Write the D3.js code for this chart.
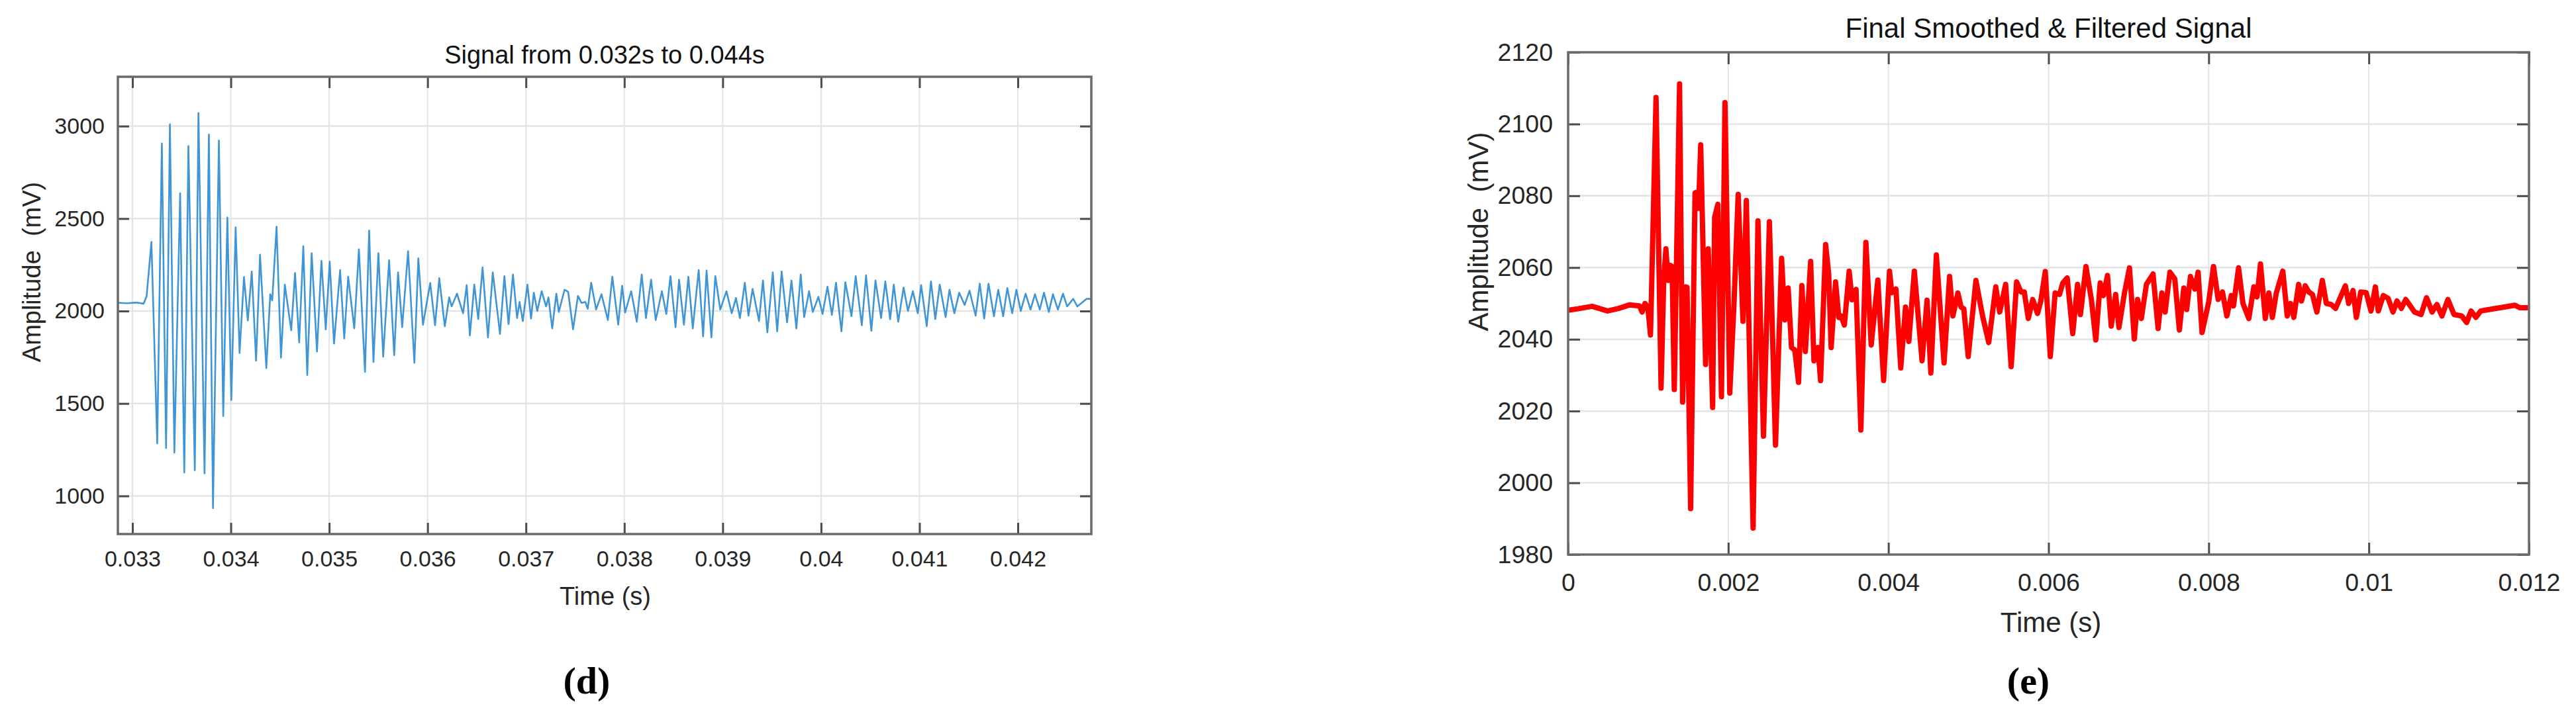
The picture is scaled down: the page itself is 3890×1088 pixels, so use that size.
<!DOCTYPE html>
<html>
<head>
<meta charset="utf-8">
<script src="https://cdn.jsdelivr.net/npm/d3@7"></script>
<style>
  html, body { margin: 0; padding: 0; background: #ffffff; }
  svg { display: block; }
  text { font-family: "Liberation Sans", Arial, Helvetica, sans-serif; }
</style>
</head>
<body>
<svg id="fig" width="3890" height="1088"></svg>
<script>
// ---------------- DATA ----------------
// Panel (d): Signal from 0.032s to 0.044s
const leftTime = [
  0.032851, 0.032946, 0.033045, 0.033114, 0.033144, 0.033193, 0.033252, 0.033299, 0.033342, 0.033381,
  0.033426, 0.033485, 0.033527, 0.033569, 0.033634, 0.033671, 0.033733, 0.033777, 0.033819, 0.033879,
  0.033923, 0.033965, 0.034005, 0.034049, 0.034089, 0.034134, 0.034173, 0.034213, 0.034257, 0.034297,
  0.034361, 0.034401, 0.034421, 0.034465, 0.034510, 0.034549, 0.034614, 0.034653, 0.034695, 0.034737,
  0.034777, 0.034822, 0.034876, 0.034921, 0.034965, 0.035005, 0.035049, 0.035111, 0.035153, 0.035193,
  0.035255, 0.035302, 0.035364, 0.035406, 0.035450, 0.035500, 0.035549, 0.035609, 0.035661, 0.035700,
  0.035742, 0.035802, 0.035866, 0.035906, 0.035953, 0.036027, 0.036076, 0.036119, 0.036175, 0.036220,
  0.036245, 0.036299, 0.036361, 0.036398, 0.036430, 0.036475, 0.036515, 0.036559, 0.036614, 0.036663,
  0.036736, 0.036781, 0.036823, 0.036868, 0.036910, 0.036935, 0.036968, 0.037015, 0.037052, 0.037080,
  0.037115, 0.037160, 0.037205, 0.037229, 0.037267, 0.037309, 0.037334, 0.037392, 0.037429, 0.037479,
  0.037529, 0.037564, 0.037604, 0.037628, 0.037663, 0.037713, 0.037768, 0.037833, 0.037878, 0.037938,
  0.037978, 0.038008, 0.038070, 0.038127, 0.038177, 0.038220, 0.038272, 0.038319, 0.038382, 0.038427,
  0.038469, 0.038521, 0.038556, 0.038606, 0.038651, 0.038696, 0.038756, 0.038801, 0.038836, 0.038885,
  0.038925, 0.038975, 0.039038, 0.039092, 0.039135, 0.039175, 0.039225, 0.039262, 0.039304, 0.039369,
  0.039409, 0.039454, 0.039509, 0.039554, 0.039599, 0.039654, 0.039699, 0.039749, 0.039793, 0.039828,
  0.039878, 0.039916, 0.039973, 0.040015, 0.040065, 0.040110, 0.040152, 0.040207, 0.040247, 0.040309,
  0.040352, 0.040414, 0.040457, 0.040511, 0.040553, 0.040610, 0.040653, 0.040702, 0.040739, 0.040784,
  0.040839, 0.040883, 0.040933, 0.040983, 0.041017, 0.041074, 0.041117, 0.041161, 0.041206, 0.041266,
  0.041305, 0.041355, 0.041404, 0.041459, 0.041509, 0.041571, 0.041613, 0.041658, 0.041702, 0.041757,
  0.041801, 0.041851, 0.041893, 0.041943, 0.041985, 0.042030, 0.042079, 0.042129, 0.042174, 0.042223,
  0.042266, 0.042315, 0.042357, 0.042407, 0.042459, 0.042501, 0.042563, 0.042605, 0.042700, 0.042744
];
const leftAmp = [
  2045, 2042, 2046, 2040, 2080, 2374, 1284, 2906, 1259, 3010,
  1234, 2637, 1127, 2893, 1139, 3071, 1122, 2955, 934, 2922,
  1432, 2506, 1519, 2453, 1773, 2184, 1949, 2214, 1732, 2305,
  1692, 2091, 2058, 2456, 1748, 2143, 1896, 2206, 1830, 2351,
  1654, 2313, 1781, 2272, 1901, 2267, 1824, 2222, 1852, 2186,
  1906, 2334, 1671, 2436, 1725, 2313, 1753, 2275, 1761, 2209,
  1913, 2324, 1720, 2285, 1926, 2152, 1923, 2178, 1918, 2074,
  2025, 2094, 1988, 2140, 1868, 2143, 1956, 2236, 1857, 2209,
  1876, 2189, 1929, 2198, 1962, 2049, 1946, 2143, 1959, 2099,
  2000, 2107, 2025, 2074, 1906, 2094, 1995, 2115, 2104, 1901,
  2082, 2044, 2049, 2012, 2153, 2008, 2091, 1951, 2186, 1926,
  2137, 1992, 2107, 1942, 2198, 1962, 2170, 1951, 2107, 1984,
  2189, 1913, 2170, 1926, 2186, 1906, 2222, 1863, 2219, 1857,
  2189, 2008, 2107, 1988, 2071, 1962, 2153, 1975, 2120, 1946,
  2165, 1885, 2209, 1890, 2214, 1939, 2165, 1906, 2198, 1967,
  2107, 1995, 2077, 1984, 2132, 1979, 2153, 1890, 2156, 1972,
  2189, 1923, 2193, 1893, 2165, 1962, 2160, 1956, 2143, 1942,
  2127, 2000, 2107, 1988, 2140, 1918, 2160, 1956, 2143, 1967,
  2115, 1988, 2099, 2033, 2110, 1975, 2148, 1959, 2148, 1972,
  2115, 1972, 2124, 1988, 2115, 2000, 2094, 2008, 2091, 2008,
  2099, 1995, 2091, 2008, 2094, 2025, 2066, 2025, 2066, 2066
];
const leftXTicks = [0.033, 0.034, 0.035, 0.036, 0.037, 0.038, 0.039, 0.040, 0.041, 0.042];
const leftXTickLabels = ["0.033", "0.034", "0.035", "0.036", "0.037", "0.038", "0.039", "0.04", "0.041", "0.042"];
const leftYTicks = [1000, 1500, 2000, 2500, 3000];
const leftYTickLabels = ["1000", "1500", "2000", "2500", "3000"];

// Panel (e): Final Smoothed & Filtered Signal
const rightTime = [
  0, 0.000121, 0.0003, 0.000492, 0.00063, 0.000768, 0.000891, 0.000924, 0.00096, 0.000996,
  0.001029, 0.001098, 0.001161, 0.001194, 0.001221, 0.001249, 0.001276, 0.001298, 0.001326, 0.001392,
  0.00143, 0.001469, 0.001485, 0.00153, 0.001585, 0.001607, 0.001629, 0.001656, 0.001717, 0.00175,
  0.001805, 0.00183, 0.00187, 0.001915, 0.001959, 0.002019, 0.00207, 0.002124, 0.002184, 0.002226,
  0.00231, 0.002371, 0.00244, 0.002514, 0.00259, 0.002666, 0.002707, 0.002748, 0.00279, 0.002831,
  0.002878, 0.002919, 0.002963, 0.003029, 0.00307, 0.00312, 0.003153, 0.003216, 0.003255, 0.003285,
  0.00334, 0.003381, 0.003408, 0.00345, 0.00351, 0.003546, 0.003596, 0.003656, 0.003719, 0.003785,
  0.003868, 0.00394, 0.004014, 0.004041, 0.004094, 0.004154, 0.004214, 0.004255, 0.004324, 0.00442,
  0.004483, 0.00453, 0.004599, 0.004695, 0.004764, 0.004805, 0.004868, 0.004907, 0.004942, 0.004997,
  0.005093, 0.005176, 0.005253, 0.005341, 0.00539, 0.005464, 0.005533, 0.005601, 0.005656, 0.005697,
  0.005747, 0.005802, 0.005862, 0.005904, 0.005959, 0.006022, 0.006082, 0.006137, 0.006178, 0.006233,
  0.006302, 0.006362, 0.006398, 0.006467, 0.006535, 0.00659, 0.006645, 0.006686, 0.006736, 0.006783,
  0.006838, 0.006879, 0.006948, 0.007011, 0.007071, 0.007112, 0.007159, 0.007222, 0.007305, 0.007368,
  0.007415, 0.007456, 0.007516, 0.007577, 0.007634, 0.007689, 0.007725, 0.007772, 0.007827, 0.007868,
  0.007917, 0.008, 0.00806, 0.008118, 0.008172, 0.008227, 0.008282, 0.00831, 0.008373, 0.008428,
  0.008501, 0.008564, 0.008603, 0.008647, 0.008707, 0.008751, 0.008795, 0.008844, 0.008926, 0.008981,
  0.009022, 0.009063, 0.009123, 0.009159, 0.009206, 0.00925, 0.009296, 0.009351, 0.009419, 0.009469,
  0.009529, 0.009584, 0.009639, 0.009707, 0.009748, 0.009803, 0.009844, 0.009899, 0.009967, 0.010027,
  0.010082, 0.010118, 0.010181, 0.010241, 0.010302, 0.010351, 0.010406, 0.010461, 0.01057, 0.010652,
  0.010721, 0.01079, 0.01085, 0.010913, 0.010987, 0.011064, 0.01116, 0.011222, 0.011277, 0.011337,
  0.011397, 0.011502, 0.011639, 0.011825, 0.011885, 0.012
];
const rightAmp = [
  2048.1, 2048.5, 2049.2, 2047.9, 2048.6, 2049.6, 2049.3, 2047.6, 2050.0, 2048.8,
  2041.2, 2107.4, 2026.4, 2056.4, 2065.2, 2056.4, 2060.6, 2060.3, 2026.0, 2111.2,
  2022.5, 2054.6, 2054.5, 1992.8, 2080.8, 2081.0, 2076.5, 2094.2, 2033.0, 2065.2,
  2021.0, 2074.0, 2077.6, 2024.0, 2106.0, 2025.0, 2049.0, 2080.4, 2045.0, 2078.7,
  1987.4, 2073.0, 2013.0, 2072.8, 2010.5, 2062.6, 2045.4, 2054.3, 2037.7, 2037.0,
  2028.0, 2055.0, 2036.6, 2061.7, 2034.0, 2037.7, 2028.5, 2066.4, 2058.0, 2037.7,
  2056.0, 2046.1, 2046.5, 2044.0, 2059.0, 2051.0, 2053.9, 2014.7, 2067.0, 2038.4,
  2056.5, 2028.5, 2059.0, 2053.0, 2054.0, 2032.0, 2049.0, 2039.4, 2059.0, 2034.0,
  2050.9, 2030.6, 2063.5, 2033.4, 2057.5, 2046.5, 2052.9, 2049.0, 2048.5, 2035.2,
  2056.4, 2046.5, 2039.1, 2054.6, 2047.6, 2055.3, 2032.4, 2056.0, 2053.2, 2053.2,
  2045.8, 2051.1, 2047.2, 2050.7, 2058.9, 2035.2, 2052.9, 2052.5, 2055.7, 2057.1,
  2041.6, 2055.3, 2046.9, 2060.3, 2051.1, 2039.8, 2055.7, 2052.2, 2057.8, 2043.7,
  2052.5, 2043.3, 2052.9, 2059.9, 2040.1, 2051.1, 2045.8, 2055.3, 2058.2, 2043.0,
  2052.9, 2047.6, 2058.7, 2056.8, 2042.6, 2054.3, 2048.3, 2057.5, 2054.0, 2058.7,
  2041.9, 2050.4, 2060.3, 2051.1, 2053.2, 2046.5, 2052.2, 2049.3, 2059.9, 2050.0,
  2045.8, 2054.6, 2051.8, 2061.0, 2045.8, 2052.9, 2046.1, 2052.9, 2059.0, 2046.5,
  2050.0, 2046.1, 2055.3, 2050.7, 2054.9, 2053.2, 2052.5, 2047.6, 2056.4, 2050.0,
  2049.7, 2048.6, 2051.4, 2054.9, 2050.0, 2053.6, 2046.1, 2053.2, 2053.0, 2047.9,
  2054.6, 2047.9, 2052.2, 2051.4, 2047.6, 2050.7, 2048.6, 2051.1, 2047.6, 2046.9,
  2051.6, 2047.6, 2049.7, 2046.5, 2051.1, 2046.9, 2046.5, 2044.7, 2047.9, 2046.1,
  2047.9, 2048.3, 2048.8, 2049.5, 2048.8, 2048.8
];
const rightXTicks = [0, 0.002, 0.004, 0.006, 0.008, 0.010, 0.012];
const rightXTickLabels = ["0", "0.002", "0.004", "0.006", "0.008", "0.01", "0.012"];
const rightYTicks = [1980, 2000, 2020, 2040, 2060, 2080, 2100, 2120];
const rightYTickLabels = ["1980", "2000", "2020", "2040", "2060", "2080", "2100", "2120"];

const leftTitle = "Signal from 0.032s to 0.044s";
const rightTitle = "Final Smoothed & Filtered Signal";
const xLabelText = "Time (s)";
const yLabelText = "Amplitude  (mV)";

// ---------------- DRAWING ----------------
const svg = d3.select("#fig");
svg.append("rect").attr("width", 3890).attr("height", 1088).attr("fill", "#ffffff");

function drawPanel(cfg) {
  const x = d3.scaleLinear().domain(cfg.xDomain).range([cfg.left, cfg.right]);
  const y = d3.scaleLinear().domain(cfg.yDomain).range([cfg.bottom, cfg.top]);
  const g = svg.append("g");

  // grid
  g.append("g").selectAll("line").data(cfg.xTicks).join("line")
    .attr("x1", d => x(d)).attr("x2", d => x(d))
    .attr("y1", cfg.top).attr("y2", cfg.bottom)
    .attr("stroke", "#e4e4e4").attr("stroke-width", 2);
  g.append("g").selectAll("line").data(cfg.yTicks).join("line")
    .attr("x1", cfg.left).attr("x2", cfg.right)
    .attr("y1", d => y(d)).attr("y2", d => y(d))
    .attr("stroke", "#e4e4e4").attr("stroke-width", 2.5);

  // clip + line
  const clipId = "clip-" + cfg.id;
  svg.append("defs").append("clipPath").attr("id", clipId)
    .append("rect").attr("x", cfg.left).attr("y", cfg.top)
    .attr("width", cfg.right - cfg.left).attr("height", cfg.bottom - cfg.top);
  const pts = cfg.xs.map((t, i) => [t, cfg.ys[i]]);
  const line = d3.line().x(d => x(d[0])).y(d => y(d[1]));
  g.append("path").datum(pts)
    .attr("clip-path", `url(#${clipId})`)
    .attr("d", line)
    .attr("fill", "none")
    .attr("stroke", cfg.color)
    .attr("stroke-width", cfg.lineWidth)
    .attr("stroke-linejoin", "round")
    .attr("stroke-linecap", "round");

  // axes (ticks pointing inward on all four sides)
  const tickColor = "#4d4d4d";
  const fmtX = (d, i) => cfg.xTickLabels[i];
  const fmtY = (d, i) => cfg.yTickLabels[i];

  const bottom = g.append("g").attr("transform", `translate(0,${cfg.bottom})`)
    .call(d3.axisBottom(x).tickValues(cfg.xTicks).tickFormat(fmtX)
      .tickSizeInner(-cfg.tickLen).tickSizeOuter(0).tickPadding(cfg.xPad));
  const top = g.append("g").attr("transform", `translate(0,${cfg.top})`)
    .call(d3.axisTop(x).tickValues(cfg.xTicks).tickFormat("")
      .tickSizeInner(-cfg.tickLen).tickSizeOuter(0));
  const leftAx = g.append("g").attr("transform", `translate(${cfg.left},0)`)
    .call(d3.axisLeft(y).tickValues(cfg.yTicks).tickFormat(fmtY)
      .tickSizeInner(-cfg.tickLen).tickSizeOuter(0).tickPadding(cfg.yPad));
  const rightAx = g.append("g").attr("transform", `translate(${cfg.right},0)`)
    .call(d3.axisRight(y).tickValues(cfg.yTicks).tickFormat("")
      .tickSizeInner(-cfg.tickLen).tickSizeOuter(0));
  [bottom, top, leftAx, rightAx].forEach(a => {
    a.select(".domain").remove();
    a.selectAll(".tick line").attr("stroke", tickColor).attr("stroke-width", 3);
    a.selectAll(".tick text")
      .attr("fill", "#262626")
      .style("font-family", '"Liberation Sans", Arial, sans-serif')
      .style("font-size", cfg.tickFont + "px");
  });

  // box
  g.append("rect")
    .attr("x", cfg.left).attr("y", cfg.top)
    .attr("width", cfg.right - cfg.left).attr("height", cfg.bottom - cfg.top)
    .attr("fill", "none").attr("stroke", "#6a6a6a").attr("stroke-width", 3.5);

  // title
  g.append("text")
    .attr("x", (cfg.left + cfg.right) / 2).attr("y", cfg.titleY)
    .attr("text-anchor", "middle")
    .attr("fill", "#111111")
    .style("font-size", cfg.labelFont + "px")
    .text(cfg.title);

  // x label
  g.append("text")
    .attr("x", cfg.xLabelX).attr("y", cfg.xLabelY)
    .attr("text-anchor", "middle")
    .attr("fill", "#262626")
    .style("font-size", cfg.labelFont + "px")
    .text(xLabelText);

  // y label
  g.append("text")
    .attr("transform", `translate(${cfg.yLabelX},${cfg.yLabelY}) rotate(-90)`)
    .attr("text-anchor", "middle")
    .attr("dominant-baseline", "central")
    .attr("fill", "#262626")
    .style("font-size", cfg.labelFont + "px")
    .style("white-space", "pre")
    .attr("xml:space", "preserve")
    .text(yLabelText);

  // caption
  g.append("text")
    .attr("x", cfg.capX).attr("y", 1048)
    .attr("text-anchor", "middle")
    .attr("fill", "#000000")
    .style("font-family", '"Liberation Serif", "Times New Roman", serif')
    .style("font-weight", "bold")
    .style("font-size", "58px")
    .text(cfg.caption);
}

drawPanel({
  id: "d",
  xs: leftTime, ys: leftAmp,
  xDomain: [0.032852, 0.042747], yDomain: [794, 3267],
  left: 178, right: 1648, top: 116, bottom: 807,
  xTicks: leftXTicks, xTickLabels: leftXTickLabels,
  yTicks: leftYTicks, yTickLabels: leftYTickLabels,
  color: "#3f95d5", lineWidth: 2.6,
  tickLen: 17, xPad: 25, yPad: 20, tickFont: 34, labelFont: 38,
  title: leftTitle, titleY: 96,
  xLabelX: 914, xLabelY: 914,
  yLabelX: 48, yLabelY: 411,
  caption: "(d)", capX: 886
});

drawPanel({
  id: "e",
  xs: rightTime, ys: rightAmp,
  xDomain: [0, 0.012], yDomain: [1980, 2120],
  left: 2368, right: 3819, top: 79, bottom: 838,
  xTicks: rightXTicks, xTickLabels: rightXTickLabels,
  yTicks: rightYTicks, yTickLabels: rightYTickLabels,
  color: "#ff0000", lineWidth: 8,
  tickLen: 18, xPad: 28, yPad: 23, tickFont: 37.5, labelFont: 42,
  title: rightTitle, titleY: 57,
  xLabelX: 3097, xLabelY: 955,
  yLabelX: 2232, yLabelY: 350,
  caption: "(e)", capX: 3063
});
</script>
</body>
</html>
